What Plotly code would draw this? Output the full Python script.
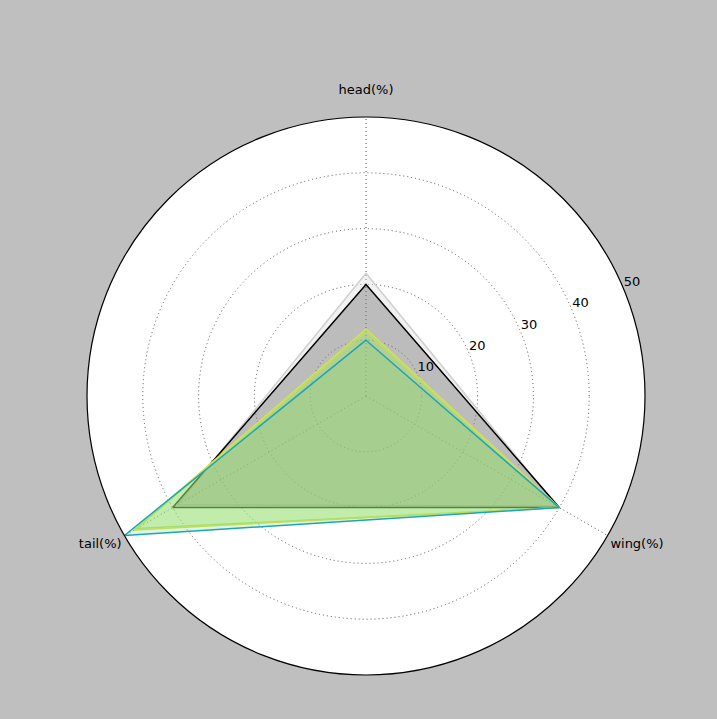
import plotly.graph_objects as go

# radar axes (placed clockwise from the top)
categories = ["head(%)", "wing(%)", "tail(%)"]
category_angles = [0, 120, 240]
category_labels = ["head(%)<br> ", "wing(%)", "tail(%)"]

# one list per series: head, wing, tail
series_gray = [22, 39.5, 39]
series_black = [20, 40, 40]
series_lime = [11.5, 40, 47.5]
series_yellow = [12, 40, 48]
series_cyan = [10, 40, 50]

radial_ticks = [10, 20, 30, 40, 50]
radial_label_angle = 67.5  # 22.5 deg above the right-hand horizontal

styles = [
    (series_gray, "#cfcfcf", "rgba(215,215,215,0.35)"),
    (series_black, "#000000", "rgba(0,0,0,0.22)"),
    (series_lime, "#a8e070", "rgba(150,225,100,0.25)"),
    (series_yellow, "#d8e04a", "rgba(190,230,90,0.25)"),
    (series_cyan, "#1aa6b8", "rgba(120,215,130,0.25)"),
]

fig = go.Figure()
for vals, line_col, fill_col in styles:
    fig.add_trace(go.Scatterpolar(
        r=vals + vals[:1],
        theta=category_angles + category_angles[:1],
        mode="lines",
        fill="toself",
        fillcolor=fill_col,
        line=dict(color=line_col, width=1.5),
        showlegend=False,
        hoverinfo="skip",
    ))

# radial tick labels, matplotlib style (horizontal, just above the tick)
fig.add_trace(go.Scatterpolar(
    r=radial_ticks,
    theta=[radial_label_angle] * len(radial_ticks),
    mode="text",
    text=[str(t) for t in radial_ticks],
    textposition="top right",
    textfont=dict(family="DejaVu Sans", size=13, color="black"),
    cliponaxis=False,
    showlegend=False,
    hoverinfo="skip",
))

fig.update_layout(
    width=717,
    height=719,
    paper_bgcolor="#bfbfbf",
    margin=dict(l=87, r=72, t=117, b=44),
    font=dict(family="DejaVu Sans", size=13, color="black"),
    polar=dict(
        bgcolor="white",
        angularaxis=dict(
            rotation=90,
            direction="clockwise",
            thetaunit="degrees",
            tickmode="array",
            tickvals=category_angles,
            ticktext=category_labels,
            showline=True,
            linecolor="black",
            linewidth=1.2,
            showgrid=True,
            gridcolor="#555555",
            griddash="1px,3px",
            gridwidth=1,
            ticks="",
            tickfont=dict(size=13),
        ),
        radialaxis=dict(
            range=[0, 50],
            tickvals=radial_ticks,
            showticklabels=False,
            showline=False,
            ticks="",
            showgrid=True,
            gridcolor="#555555",
            griddash="1px,3px",
            gridwidth=1,
        ),
    ),
)

# drop the page's default body margin so the figure sits at the window corner
fig.write_html("out.html", config={"displayModeBar": False},
               post_script="document.body.style.margin='0px';")
